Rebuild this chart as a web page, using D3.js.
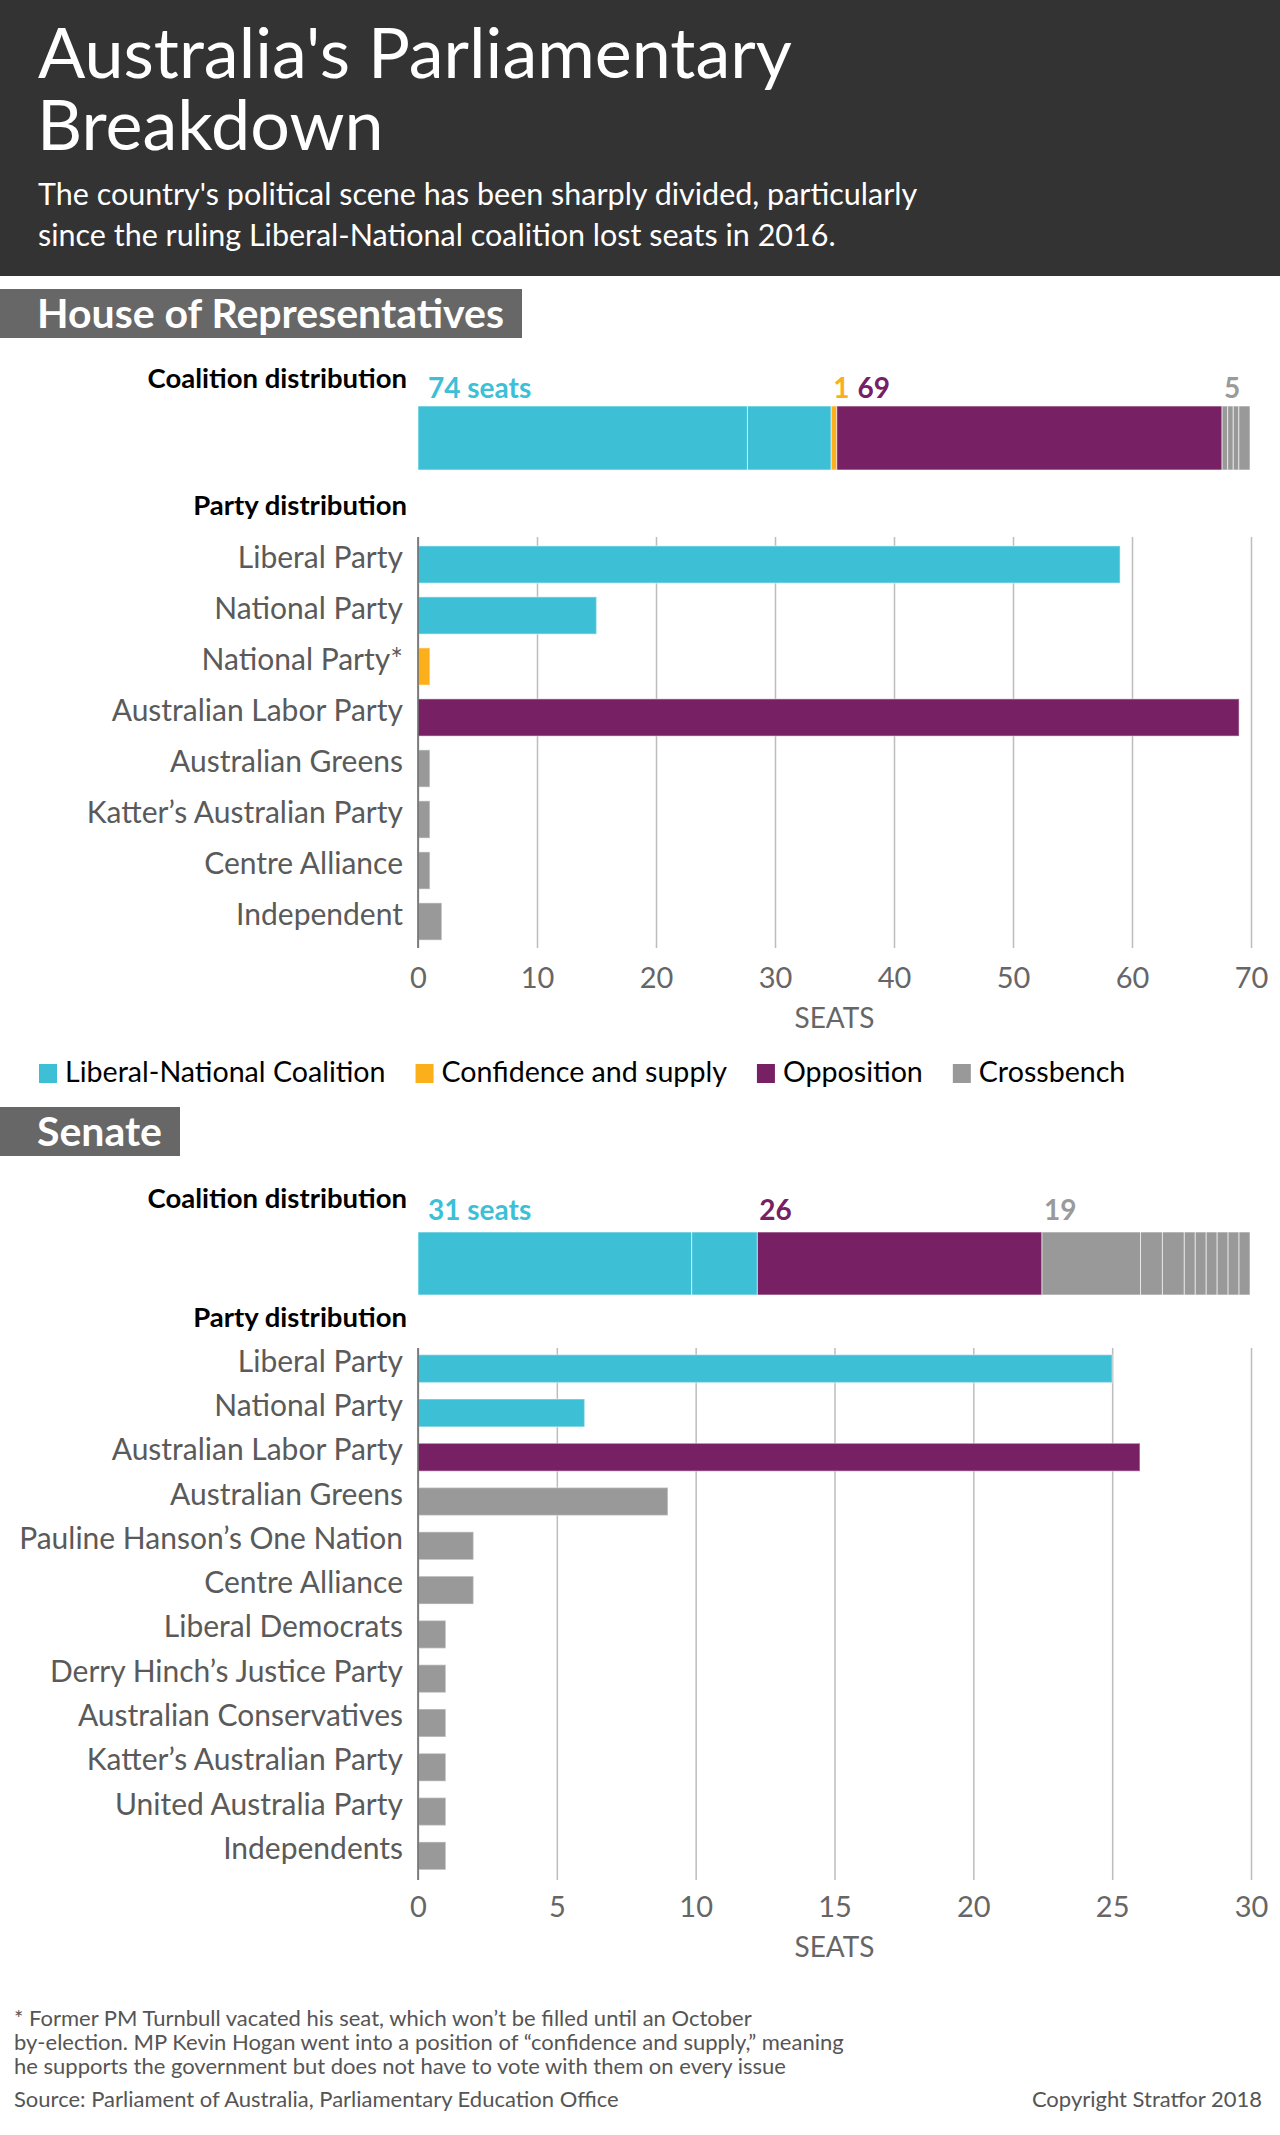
<!DOCTYPE html>
<html>
<head>
<meta charset="utf-8">
<script src="https://cdn.jsdelivr.net/npm/d3@7"></script>
<style>
  body { margin: 0; background: #fff; }
  svg { display: block; font-family: Lato, "Open Sans", sans-serif; }
</style>
</head>
<body>
<script>
  // data
  const groupNames = ['Liberal-National Coalition', 'Confidence and supply', 'Opposition', 'Crossbench'];
  const groupColors = ['#3dbfd6', '#fbb01b', '#772063', '#999999'];
  const groupLabelColors = ['#3dbfd6', '#fbb01b', '#772063', '#9a9a9a'];

  const houseParties = ['Liberal Party', 'National Party', 'National Party*', 'Australian Labor Party',
    'Australian Greens', 'Katter’s Australian Party', 'Centre Alliance', 'Independent'];
  const houseSeats = [59, 15, 1, 69, 1, 1, 1, 2];
  const houseGroups = [0, 0, 1, 2, 3, 3, 3, 3];
  const houseTicks = [0, 10, 20, 30, 40, 50, 60, 70];

  const senateParties = ['Liberal Party', 'National Party', 'Australian Labor Party', 'Australian Greens',
    'Pauline Hanson’s One Nation', 'Centre Alliance', 'Liberal Democrats', 'Derry Hinch’s Justice Party',
    'Australian Conservatives', 'Katter’s Australian Party', 'United Australia Party', 'Independents'];
  const senateSeats = [25, 6, 26, 9, 2, 2, 1, 1, 1, 1, 1, 1];
  const senateGroups = [0, 0, 2, 3, 3, 3, 3, 3, 3, 3, 3, 3];
  const senateTicks = [0, 5, 10, 15, 20, 25, 30];

  const width = 1280;
  const height = 2135;

  const svg = d3.select('body')
          .append('svg')
          .attr('width', width)
          .attr('height', height);

  // header
  svg.append('rect').attr('width', width).attr('height', 276).attr('fill', '#333333');
  const title = svg.append('text').attr('x', 38).attr('y', 78).attr('fill', '#fff')
          .attr('font-size', 70);
  title.append('tspan').attr('x', 38).text('Australia\'s Parliamentary');
  title.append('tspan').attr('x', 37).attr('dy', 72).text('Breakdown');

  const subtitle = svg.append('text').attr('x', 38).attr('y', 205).attr('fill', '#fff')
          .attr('font-size', 30.5);
  subtitle.append('tspan').attr('x', 38).text('The country\'s political scene has been sharply divided, particularly');
  subtitle.append('tspan').attr('x', 38).attr('dy', 41).text('since the ruling Liberal-National coalition lost seats in 2016.');

  const left = 418;
  const right = 1250;

  function drawSection(cfg) {
    const g = svg.append('g');

    // section title box
    g.append('rect').attr('x', 0).attr('y', cfg.boxY).attr('width', cfg.boxW).attr('height', 49)
            .attr('fill', '#676767');
    g.append('text').attr('x', 37).attr('y', cfg.boxY + 39).attr('fill', '#fff')
            .attr('font-size', 41).attr('font-weight', 'bold').text(cfg.title);

    // coalition distribution
    g.append('text').attr('x', 407).attr('y', cfg.coalY).attr('text-anchor', 'end')
            .attr('font-size', 27.5).attr('font-weight', 'bold').attr('fill', '#000')
            .text('Coalition distribution');

    const total = d3.sum(cfg.seats);
    const xc = d3.scaleLinear().domain([0, total]).range([left, right]);
    let acc = 0;
    const segs = cfg.seats.map((s, i) => {
      const seg = { start: acc, end: acc + s, group: cfg.groups[i] };
      acc += s;
      return seg;
    });

    g.append('g').selectAll('rect')
            .data(segs)
            .enter()
            .append('rect')
            .attr('x', d => xc(d.start))
            .attr('y', cfg.barY)
            .attr('width', d => xc(d.end) - xc(d.start))
            .attr('height', cfg.barH)
            .attr('fill', d => groupColors[d.group])
            .attr('stroke', 'rgba(255,255,255,0.6)')
            .attr('stroke-width', 1);

    // group totals above the bar
    const totals = d3.rollups(segs, v => ({ n: d3.sum(v, d => d.end - d.start), start: d3.min(v, d => d.start) }), d => d.group)
            .sort((a, b) => a[0] - b[0]);
    let lastEnd = -Infinity;
    totals.forEach(([grp, t], i) => {
      const txt = i === 0 ? t.n + ' seats' : String(t.n);
      const lab = g.append('text')
              .attr('y', cfg.barY - cfg.labelGap)
              .attr('font-size', 28).attr('font-weight', 'bold')
              .attr('fill', groupLabelColors[grp])
              .text(txt);
      const w = lab.node().getComputedTextLength();
      let x = xc(t.start) + (i === 0 ? 10 : 2);
      if (x < lastEnd + 8) x = lastEnd + 8;
      lab.attr('x', x);
      lastEnd = x + w;
    });

    // party distribution
    g.append('text').attr('x', 407).attr('y', cfg.partyY).attr('text-anchor', 'end')
            .attr('font-size', 27.5).attr('font-weight', 'bold').attr('fill', '#000')
            .text('Party distribution');

    const x = d3.scaleLinear().domain([0, d3.max(cfg.ticks)]).range([left, 1251]);
    const y = d3.scaleBand().domain(cfg.parties).range(cfg.bandRange)
            .paddingInner(cfg.pad).paddingOuter(cfg.pad / 2);

    const axis = g.append('g')
            .attr('transform', `translate(0,${cfg.gridBottom})`)
            .call(d3.axisBottom(x).tickValues(cfg.ticks).tickSize(-(cfg.gridBottom - cfg.gridTop)));
    axis.select('.domain').remove();
    axis.selectAll('line').attr('stroke', '#bdbdbd').attr('stroke-width', 1.5);
    axis.selectAll('text')
            .attr('y', cfg.tickBaseline - cfg.gridBottom).attr('dy', 0)
            .attr('fill', '#666').attr('font-size', 29)
            .attr('font-family', 'Lato, sans-serif');

    g.append('g').selectAll('rect')
            .data(cfg.parties)
            .enter()
            .append('rect')
            .attr('x', x(0))
            .attr('y', d => y(d))
            .attr('width', (d, i) => x(cfg.seats[i]) - x(0))
            .attr('height', y.bandwidth())
            .attr('fill', (d, i) => groupColors[cfg.groups[i]])
            .attr('stroke', 'rgba(255,255,255,0.35)')
            .attr('stroke-width', 1.5);

    g.append('line')
            .attr('x1', x(0)).attr('x2', x(0))
            .attr('y1', cfg.gridTop).attr('y2', cfg.gridBottom)
            .attr('stroke', '#666').attr('stroke-width', 1.5);

    g.append('g').selectAll('text')
            .data(cfg.parties)
            .enter()
            .append('text')
            .attr('x', 403)
            .attr('y', d => y(d) + y.bandwidth() / 2 + 3)
            .attr('text-anchor', 'end')
            .attr('font-size', 30)
            .attr('fill', '#5a5a5a')
            .text(d => d);

    g.append('text').attr('x', (left + 1251) / 2).attr('y', cfg.tickBaseline + 40)
            .attr('text-anchor', 'middle').attr('font-size', 28).attr('fill', '#666')
            .text('SEATS');
  }

  drawSection({
    title: 'House of Representatives', boxY: 289, boxW: 522,
    coalY: 388, barY: 406, barH: 64, labelGap: 8, partyY: 515,
    parties: houseParties, seats: houseSeats, groups: houseGroups, ticks: houseTicks,
    bandRange: [539, 947], pad: 0.27, gridTop: 537, gridBottom: 948, tickBaseline: 988
  });

  drawSection({
    title: 'Senate', boxY: 1107, boxW: 180,
    coalY: 1208, barY: 1232, barH: 63, labelGap: 12, partyY: 1327,
    parties: senateParties, seats: senateSeats, groups: senateGroups, ticks: senateTicks,
    bandRange: [1346.5, 1878], pad: 0.37, gridTop: 1348, gridBottom: 1880, tickBaseline: 1917
  });

  // legend
  const legend = svg.append('g').attr('transform', 'translate(39,1082)');
  let lx = 0;
  groupNames.forEach((name, i) => {
    legend.append('rect').attr('x', lx).attr('y', -18).attr('width', 18).attr('height', 19)
            .attr('fill', groupColors[i]);
    const t = legend.append('text').attr('x', lx + 26).attr('y', 0)
            .attr('font-size', 28.6).attr('fill', '#000').text(name);
    lx += 26 + t.node().getComputedTextLength() + 30;
  });

  // footnotes
  const notes = [
    '* Former PM Turnbull vacated his seat, which won’t be filled until an October',
    'by-election. MP Kevin Hogan went into a position of “confidence and supply,” meaning',
    'he supports the government but does not have to vote with them on every issue'
  ];
  svg.append('g').selectAll('text')
          .data(notes)
          .enter()
          .append('text')
          .attr('x', 14)
          .attr('y', (d, i) => 2026 + i * 24)
          .attr('font-size', 22)
          .attr('fill', '#555')
          .text(d => d);

  svg.append('text').attr('x', 14).attr('y', 2107).attr('font-size', 22).attr('fill', '#555')
          .text('Source: Parliament of Australia, Parliamentary Education Office');
  svg.append('text').attr('x', 1262).attr('y', 2107).attr('text-anchor', 'end')
          .attr('font-size', 22).attr('fill', '#555').text('Copyright Stratfor 2018');
</script>
</body>
</html>
